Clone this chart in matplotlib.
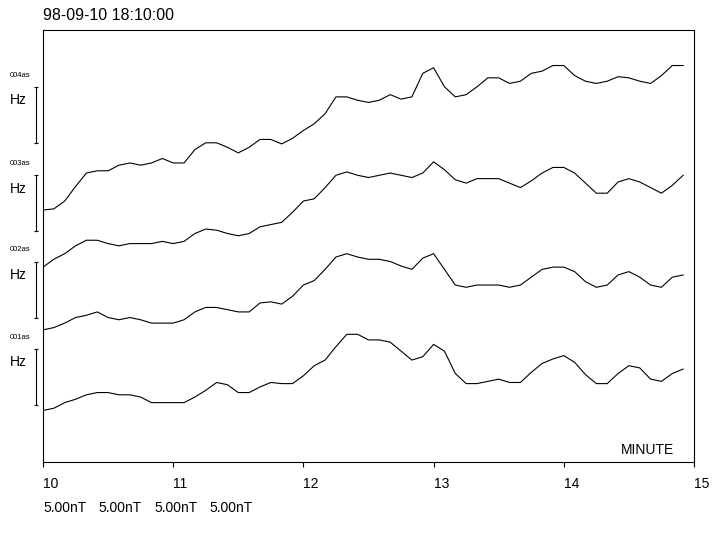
import numpy as np
import matplotlib
matplotlib.use('Agg')
import matplotlib.pyplot as plt
import matplotlib.transforms as mtransforms

plt.rcParams['font.family'] = ['Liberation Sans', 'DejaVu Sans']

title = '98-09-10 18:10:00'
station_labels = ['004as', '003as', '002as', '001as']
scale_labels = ['5.00nT', '5.00nT', '5.00nT', '5.00nT']
xtick_vals = [10, 11, 12, 13, 14, 15]

# 5-second samples from 10:00 to 14:55 (minutes)
minutes = 10 + np.arange(60) / 12.0

# field variation in nT, relative to the first sample of each trace
trace_a = [0, 0.1, 0.8, 2.1, 3.3, 3.5, 3.5, 4.0, 4.2, 4.0, 4.2, 4.6, 4.2, 4.2, 5.4,
           6.0, 6.0, 5.6, 5.1, 5.6, 6.3, 6.3, 5.9, 6.4, 7.1, 7.7, 8.6, 10.1, 10.1, 9.8,
           9.6, 9.8, 10.3, 9.9, 10.1, 12.2, 12.7, 11.0, 10.1, 10.3, 11.0, 11.8, 11.8, 11.3, 11.5,
           12.2, 12.4, 12.9, 12.9, 12.0, 11.5, 11.3, 11.5, 11.9, 11.8, 11.5, 11.3, 12.0, 12.9, 12.9]
trace_b = [0, 0.7, 1.2, 1.9, 2.4, 2.4, 2.1, 1.9, 2.1, 2.1, 2.1, 2.3, 2.1, 2.3, 3.0,
           3.4, 3.3, 3.0, 2.8, 3.0, 3.6, 3.8, 4.0, 4.9, 5.9, 6.1, 7.1, 8.2, 8.5, 8.2,
           8.0, 8.2, 8.4, 8.2, 8.0, 8.4, 9.4, 8.7, 7.8, 7.5, 7.9, 7.9, 7.9, 7.5, 7.1,
           7.7, 8.4, 8.9, 8.9, 8.4, 7.5, 6.6, 6.6, 7.6, 7.9, 7.6, 7.1, 6.6, 7.3, 8.2]
trace_c = [0, 0.2, 0.6, 1.1, 1.3, 1.6, 1.1, 0.9, 1.1, 0.9, 0.6, 0.6, 0.6, 0.9, 1.6,
           2.0, 2.0, 1.8, 1.6, 1.6, 2.4, 2.5, 2.3, 3.0, 4.0, 4.4, 5.4, 6.5, 6.8, 6.5,
           6.3, 6.3, 6.1, 5.7, 5.4, 6.4, 6.8, 5.4, 4.0, 3.8, 4.0, 4.0, 4.0, 3.8, 4.0,
           4.7, 5.4, 5.6, 5.6, 5.2, 4.3, 3.8, 4.0, 4.9, 5.2, 4.7, 4.0, 3.8, 4.7, 4.9]
trace_d = [0, 0.2, 0.7, 1.0, 1.4, 1.6, 1.6, 1.4, 1.4, 1.2, 0.7, 0.7, 0.7, 0.7, 1.2,
           1.8, 2.5, 2.3, 1.6, 1.6, 2.1, 2.5, 2.4, 2.4, 3.1, 4.0, 4.5, 5.7, 6.8, 6.8,
           6.3, 6.3, 6.1, 5.3, 4.5, 4.8, 5.9, 5.3, 3.3, 2.4, 2.4, 2.6, 2.8, 2.5, 2.5,
           3.4, 4.2, 4.6, 4.9, 4.3, 3.2, 2.4, 2.4, 3.3, 4.0, 3.8, 2.8, 2.6, 3.3, 3.7]

traces = [trace_a, trace_b, trace_c, trace_d]
# vertical offsets of the traces in the stacked plot (nT)
offsets = [22.5, 17.4, 11.8, 4.6]
# bottom of each 5 nT scale bar (nT)
bar_bottoms = [28.5, 20.6, 12.9, 5.1]

fig = plt.figure(figsize=(7.24, 5.36), dpi=100)
ax = fig.add_axes([43 / 724, 74 / 536, 651 / 724, 432 / 536])

for tr, off in zip(traces, offsets):
    ax.plot(minutes, np.array(tr) + off, color='black', lw=0.8)

ax.set_xlim(10, 15)
ax.set_ylim(0, 432 / 11.2)
ax.set_yticks([])
ax.set_xticks(xtick_vals)
ax.set_xticklabels([str(v) for v in xtick_vals], ha='left', fontsize=10)
ax.tick_params(axis='x', direction='out', length=3.5, width=0.8, pad=7.5)
for sp in ax.spines.values():
    sp.set_linewidth(0.8)

ax.text(0.97, 12 / 432, 'MINUTE', transform=ax.transAxes, ha='right', va='center', fontsize=10)

# station labels and scale bars to the left of the axes
trans = mtransforms.blended_transform_factory(ax.transAxes, ax.transData)
for name, yb in zip(station_labels, bar_bottoms):
    ax.plot([-0.0108, -0.0108], [yb, yb + 5], transform=trans, color='black',
            lw=0.8, clip_on=False)
    ax.plot([-0.0108, -0.0108], [yb, yb + 5], transform=trans, color='black',
            ls='none', marker='_', ms=3, mew=0.8, clip_on=False)
    ax.text(-0.051, yb + 6.05, name, transform=trans, fontsize=5.5, va='center', ha='left')
    ax.text(-0.051, yb + 3.8, 'Hz', transform=trans, fontsize=10, va='center', ha='left')

fig.text(43 / 724, 1 - 15 / 536, title, fontsize=11.5, va='center', ha='left')
for i, s in enumerate(scale_labels):
    fig.text((43 + 55.5 * i) / 724, 1 - 508 / 536, s, fontsize=10, va='center', ha='left')

fig.savefig('out.png', dpi=100)
